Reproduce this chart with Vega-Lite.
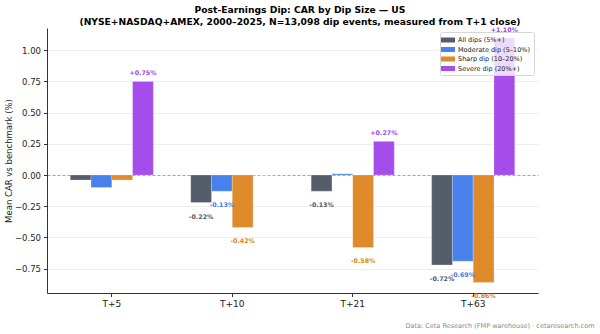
{
  "$schema": "https://vega.github.io/schema/vega-lite/v6.json",
  "width": 491,
  "height": 265,
  "autosize": {"type": "none"},
  "padding": {"left": 47, "top": 28, "right": 62, "bottom": 41},
  "background": "white",
  "config": {
    "font": "DejaVu Sans",
    "view": {"stroke": null}
  },
  "title": {
    "text": ["Post-Earnings Dip: CAR by Dip Size — US", "(NYSE+NASDAQ+AMEX, 2000–2025, N=13,098 dip events, measured from T+1 close)"],
    "fontSize": 9.2,
    "fontWeight": "bold",
    "font": "DejaVu Sans",
    "color": "#000",
    "anchor": "middle",
    "frame": "group",
    "dx": 7.5,
    "offset": 0,
    "lineHeight": 12
  },
  "data": {
    "values": [
      {"horizon": "T+5", "series": "All dips (5%+)", "v": -0.04},
      {"horizon": "T+5", "series": "Moderate dip (5–10%)", "v": -0.10},
      {"horizon": "T+5", "series": "Sharp dip (10–20%)", "v": -0.04},
      {"horizon": "T+5", "series": "Severe dip (20%+)", "v": 0.75},
      {"horizon": "T+10", "series": "All dips (5%+)", "v": -0.22},
      {"horizon": "T+10", "series": "Moderate dip (5–10%)", "v": -0.13},
      {"horizon": "T+10", "series": "Sharp dip (10–20%)", "v": -0.42},
      {"horizon": "T+10", "series": "Severe dip (20%+)", "v": 0.0},
      {"horizon": "T+21", "series": "All dips (5%+)", "v": -0.13},
      {"horizon": "T+21", "series": "Moderate dip (5–10%)", "v": 0.01},
      {"horizon": "T+21", "series": "Sharp dip (10–20%)", "v": -0.58},
      {"horizon": "T+21", "series": "Severe dip (20%+)", "v": 0.27},
      {"horizon": "T+63", "series": "All dips (5%+)", "v": -0.72},
      {"horizon": "T+63", "series": "Moderate dip (5–10%)", "v": -0.69},
      {"horizon": "T+63", "series": "Sharp dip (10–20%)", "v": -0.86},
      {"horizon": "T+63", "series": "Severe dip (20%+)", "v": 1.10}
    ]
  },
  "encoding": {
    "x": {
      "field": "horizon",
      "type": "nominal",
      "sort": ["T+5", "T+10", "T+21", "T+63"],
      "scale": {"paddingInner": 0.31, "paddingOuter": 0.193},
      "axis": {
        "labelAngle": 0,
        "labelFontSize": 9,
        "labelColor": "#222",
        "labelPadding": 3,
        "tickColor": "#333",
        "tickSize": 3.5,
        "domainColor": "#333",
        "title": "Data: Ceta Research (FMP warehouse) · cetaresearch.com",
        "titleFontSize": 6.5,
        "titleFontWeight": "normal",
        "titleColor": "#888",
        "titleAnchor": "end",
        "titleAlign": "right",
        "titleBaseline": "middle",
        "titleX": 547,
        "titleY": 32
      }
    },
    "xOffset": {"field": "series", "type": "nominal", "sort": ["All dips (5%+)", "Moderate dip (5–10%)", "Sharp dip (10–20%)", "Severe dip (20%+)"]},
    "y": {
      "field": "v",
      "type": "quantitative",
      "scale": {"domain": [-0.945, 1.178], "nice": false, "zero": false},
      "axis": {
        "values": [-0.75, -0.5, -0.25, 0, 0.25, 0.5, 0.75, 1.0],
        "labelExpr": "replace(format(datum.value, '.2f'), '-', '−')",
        "labelOverlap": false,
        "labelFontSize": 8.5,
        "labelColor": "#222",
        "tickColor": "#333",
        "tickSize": 3.5,
        "labelPadding": 3,
        "domainColor": "#333",
        "grid": true,
        "gridColor": {"condition": {"test": "datum.value === 0", "value": "#999"}, "value": "#ececec"},
        "gridDash": {"condition": {"test": "datum.value === 0", "value": [3, 2]}, "value": []},
        "gridWidth": 0.9,
        "title": "Mean CAR vs benchmark (%)",
        "titleFontSize": 8.5,
        "titleFontWeight": "normal",
        "titleColor": "#222",
        "titlePadding": 1
      }
    }
  },
  "layer": [
    {
      "mark": {"type": "bar", "opacity": 0.95, "stroke": "white", "strokeWidth": 0.4, "strokeOpacity": 0.6},
      "encoding": {
        "color": {
          "field": "series",
          "type": "nominal",
          "scale": {
            "domain": ["All dips (5%+)", "Moderate dip (5–10%)", "Sharp dip (10–20%)", "Severe dip (20%+)"],
            "range": ["#4e5563", "#3f7bea", "#de8420", "#a044ea"]
          },
          "legend": {
            "orient": "top-right",
            "offset": 4,
            "title": null,
            "labelFontSize": 6.5,
            "labelColor": "#222",
            "symbolType": "M-1.4,-0.5H1.4V0.5H-1.4Z",
            "symbolSize": 100,
            "symbolStrokeWidth": 0,
            "symbolOpacity": 0.95,
            "rowPadding": 0.5,
            "padding": 3,
            "strokeColor": "#d6d6d6",
            "fillColor": "rgba(255,255,255,0.8)",
            "cornerRadius": 2,
            "labelOffset": 5
          }
        }
      }
    },
    {
      "transform": [
        {"filter": "datum.v >= 0.11"},
        {"calculate": "'+' + format(datum.v, '.2f') + '%'", "as": "label"}
      ],
      "mark": {"type": "text", "fontSize": 6.3, "fontWeight": "bold", "baseline": "middle", "dy": -8},
      "encoding": {
        "text": {"field": "label"},
        "color": {"field": "series", "type": "nominal", "legend": null}
      }
    },
    {
      "transform": [
        {"filter": "datum.v <= -0.11"},
        {"calculate": "'-' + format(-datum.v, '.2f') + '%'", "as": "label"}
      ],
      "mark": {"type": "text", "fontSize": 6.3, "fontWeight": "bold", "baseline": "middle", "dy": 14},
      "encoding": {
        "text": {"field": "label"},
        "color": {"field": "series", "type": "nominal", "legend": null}
      }
    }
  ]
}
